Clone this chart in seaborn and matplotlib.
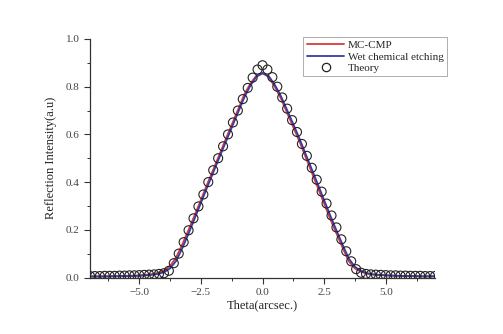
import numpy as np
import pandas as pd
import matplotlib
matplotlib.use("Agg")
import matplotlib.pyplot as plt
import seaborn as sns
from matplotlib.ticker import MultipleLocator, FuncFormatter
from matplotlib.lines import Line2D

# ---- data ----
line_theta = [-7.0, -6.5, -6.0, -5.5, -5.0, -4.75, -4.5, -4.25, -4.0, -3.75,
              -3.5, -3.25, -3.0, -2.75, -2.5, -2.25, -2.0, -1.75, -1.5, -1.25,
              -1.0, -0.75, -0.5, -0.25, 0.0, 0.25, 0.5, 0.75, 1.0, 1.25,
              1.5, 1.75, 2.0, 2.25, 2.5, 2.75, 3.0, 3.25, 3.5, 3.75,
              4.0, 4.25, 4.5, 5.0, 5.5, 6.0, 6.5, 7.0]
mc_cmp = [0.005, 0.005, 0.006, 0.007, 0.009, 0.011, 0.014, 0.019, 0.028, 0.048,
          0.085, 0.140, 0.200, 0.262, 0.325, 0.390, 0.452, 0.515, 0.578, 0.640,
          0.702, 0.765, 0.812, 0.846, 0.858, 0.840, 0.800, 0.750, 0.690, 0.630,
          0.570, 0.505, 0.440, 0.375, 0.310, 0.245, 0.185, 0.125, 0.068, 0.038,
          0.024, 0.016, 0.012, 0.009, 0.007, 0.006, 0.005, 0.005]
wet_etch = [0.004, 0.004, 0.005, 0.006, 0.007, 0.009, 0.011, 0.015, 0.022, 0.038,
            0.070, 0.124, 0.184, 0.248, 0.312, 0.377, 0.440, 0.503, 0.566, 0.628,
            0.690, 0.752, 0.803, 0.842, 0.856, 0.845, 0.808, 0.760, 0.702, 0.643,
            0.583, 0.518, 0.454, 0.390, 0.325, 0.260, 0.198, 0.138, 0.080, 0.045,
            0.027, 0.018, 0.013, 0.009, 0.007, 0.006, 0.005, 0.005]

theory_theta = [-7.0, -6.8, -6.6, -6.4, -6.2, -6.0, -5.8, -5.6, -5.4, -5.2,
                -5.0, -4.8, -4.6, -4.4, -4.2, -4.0, -3.8, -3.6, -3.4, -3.2,
                -3.0, -2.8, -2.6, -2.4, -2.2, -2.0, -1.8, -1.6, -1.4, -1.2,
                -1.0, -0.8, -0.6, -0.4, -0.2, 0.0, 0.2, 0.4, 0.6, 0.8,
                1.0, 1.2, 1.4, 1.6, 1.8, 2.0, 2.2, 2.4, 2.6, 2.8,
                3.0, 3.2, 3.4, 3.6, 3.8, 4.0, 4.2, 4.4, 4.6, 4.8,
                5.0, 5.2, 5.4, 5.6, 5.8, 6.0, 6.2, 6.4, 6.6, 6.8, 7.0]
theory = [0.006, 0.006, 0.006, 0.007, 0.007, 0.007, 0.008, 0.008, 0.009, 0.009,
          0.010, 0.011, 0.012, 0.013, 0.015, 0.018, 0.028, 0.060, 0.100, 0.148,
          0.198, 0.248, 0.298, 0.348, 0.400, 0.450, 0.500, 0.550, 0.600, 0.650,
          0.700, 0.748, 0.795, 0.838, 0.872, 0.890, 0.872, 0.840, 0.800, 0.755,
          0.708, 0.660, 0.610, 0.560, 0.510, 0.460, 0.410, 0.360, 0.310, 0.260,
          0.210, 0.160, 0.110, 0.068, 0.035, 0.020, 0.015, 0.013, 0.012, 0.011,
          0.010, 0.009, 0.009, 0.008, 0.008, 0.007, 0.007, 0.007, 0.006, 0.006, 0.006]

labels = ["MC-CMP", "Wet chemical etching", "Theory"]
x_label = "Theta(arcsec.)"
y_label = "Reflection Intensity(a.u)"

# ---- style ----
sns.set_style("ticks")
plt.rcParams["font.family"] = ["Liberation Serif", "DejaVu Serif"]

fig = plt.figure(figsize=(5.03, 3.34), dpi=100)
ax = fig.add_axes([90/503, 1-277.5/334, 345/503, (277.5-39)/334])

df_lines = pd.DataFrame({
    "theta": line_theta * 2,
    "I": mc_cmp + wet_etch,
    "series": [labels[0]] * len(line_theta) + [labels[1]] * len(line_theta),
})
red = "#d93a3a"
blue = "#3a3aa8"
sns.lineplot(data=df_lines, x="theta", y="I", hue="series",
             palette={labels[0]: red, labels[1]: blue},
             linewidth=1.3, ax=ax, legend=False, sort=False)

df_th = pd.DataFrame({"theta": theory_theta, "I": theory})
sns.scatterplot(data=df_th, x="theta", y="I", ax=ax, marker="o", s=42,
                facecolor="none", edgecolor="#222222", linewidth=0.8,
                legend=False, zorder=3)

ax.set_xlim(-7, 7)
ax.set_ylim(0, 1.0)
ax.xaxis.set_major_locator(MultipleLocator(2.5))
ax.xaxis.set_minor_locator(MultipleLocator(1.25))
ax.yaxis.set_major_locator(MultipleLocator(0.2))
ax.yaxis.set_minor_locator(MultipleLocator(0.1))
fmt = FuncFormatter(lambda v, p: f"{v:.1f}".replace("-", "\u2212"))
ax.xaxis.set_major_formatter(fmt)
ax.yaxis.set_major_formatter(fmt)
ax.tick_params(which="major", direction="out", length=4, width=0.8,
               labelsize=8, colors="#333333", labelcolor="#444444")
ax.tick_params(which="minor", direction="out", length=2, width=0.7, colors="#333333")
for side in ["top", "right"]:
    ax.spines[side].set_visible(False)
for side in ["left", "bottom"]:
    ax.spines[side].set_linewidth(0.9)
    ax.spines[side].set_color("#333333")

ax.set_xlabel(x_label, fontsize=9, color="#222222", labelpad=2)
ax.set_ylabel(y_label, fontsize=9, color="#222222", labelpad=6)

handles = [
    Line2D([0], [0], color=red, lw=1.3),
    Line2D([0], [0], color=blue, lw=1.3),
    Line2D([0], [0], color="#222222", marker="o", markerfacecolor="none",
           linestyle="none", markersize=6, markeredgewidth=0.9),
]
leg = ax.legend(handles, labels, loc="upper right",
                bbox_to_anchor=(447/503, 1-37/334), bbox_transform=fig.transFigure,
                fontsize=8, frameon=True, fancybox=False, borderaxespad=0,
                handlelength=3.4, handletextpad=0.3, labelspacing=0.15,
                borderpad=0.3, edgecolor="#888888")
leg.get_frame().set_linewidth(0.6)

fig.savefig("out.png", dpi=100)
